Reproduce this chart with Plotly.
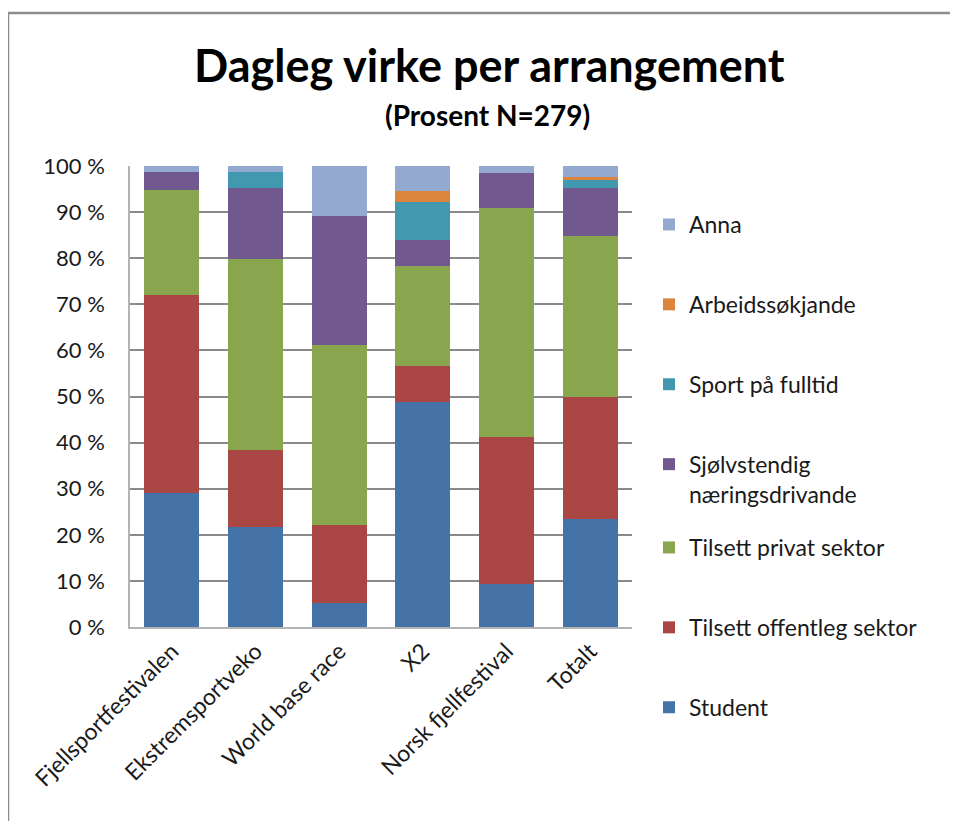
import plotly.graph_objects as go

categories = ["Fjellsportfestivalen", "Ekstremsportveko", "World base race", "X2", "Norsk fjellfestival", "Totalt"]

student = [29.1, 21.7, 5.3, 48.7, 9.4, 23.4]
offentleg = [43.0, 16.8, 16.9, 8.0, 31.9, 26.4]
privat = [22.8, 41.3, 38.9, 21.6, 49.5, 35.0]
sjolvstendig = [3.9, 15.4, 28.0, 5.6, 7.6, 10.4]
sport = [0.0, 3.5, 0.0, 8.2, 0.0, 1.8]
arbeid = [0.0, 0.0, 0.0, 2.5, 0.0, 0.6]
anna = [1.2, 1.3, 10.9, 5.4, 1.6, 2.4]

series_names = ["Student", "Tilsett offentleg sektor", "Tilsett privat sektor",
                "Sjølvstendig<br>næringsdrivande", "Sport på fulltid", "Arbeidssøkjande", "Anna"]
series_values = [student, offentleg, privat, sjolvstendig, sport, arbeid, anna]
colors = ["#4572A7", "#AA4643", "#89A54E", "#71588F", "#4198AF", "#DB843D", "#93A9CF"]
legend_ids = ["legend2", "legend2", "legend2", "legend", "legend", "legend", "legend"]

y_ticks = [0, 10, 20, 30, 40, 50, 60, 70, 80, 90, 100]
y_ticklabels = [f"{v} %" for v in y_ticks]

FONT = "Lato"

fig = go.Figure()
n = len(series_names)
for i, (name, vals, col, lg) in enumerate(zip(series_names, series_values, colors, legend_ids)):
    fig.add_trace(go.Bar(
        x=categories, y=vals, name=name, marker=dict(color=col, line=dict(width=0)),
        legendgroup=name, legendrank=n - i, legend=lg,
    ))

OFF = 8  # page body offset
W, H = 958 - OFF, 821 - OFF
# target screen coordinates of plot area
SL, SR, ST, SB = 130, 632, 166, 627
L, T = SL - OFF, ST - OFF
R = W - (SR - OFF)
B = H - (SB - OFF)
pw, ph = W - L - R, H - T - B

def sx(px):
    return (px - OFF - L) / pw

def sy(py):
    return (H - B - (py - OFF)) / ph

legend_style = dict(
    xanchor="left", yanchor="top",
    traceorder="grouped", tracegroupgap=47, valign="top",
    font=dict(family=FONT, size=23, color="#1a1a1a"),
    itemwidth=30, maxheight=700,
)

fig.update_layout(
    width=W, height=H,
    margin=dict(l=L, r=R, t=T, b=B, autoexpand=False),
    barmode="stack",
    bargap=0.34,
    plot_bgcolor="white",
    paper_bgcolor="white",
    font=dict(family=FONT, size=22, color="#1a1a1a"),
    showlegend=True,
    legend=dict(x=sx(649), y=sy(203), **legend_style),
    legend2=dict(x=sx(649), y=sy(526), **legend_style),
    xaxis=dict(
        tickangle=-45, showgrid=False, showline=True, linecolor="#b3b3b3", linewidth=1.5,
        tickfont=dict(family=FONT, size=23), ticks="",
    ),
    yaxis=dict(
        range=[0, 100], tickvals=y_ticks, ticktext=y_ticklabels,
        showgrid=True, gridcolor="#8a8a8a", gridwidth=1.5,
        showline=True, linecolor="#b3b3b3", linewidth=1.5,
        ticks="", ticklabelstandoff=19,
        tickfont=dict(family=FONT, size=22), zeroline=False,
    ),
    annotations=[
        dict(text="<b>Dagleg virke per arrangement</b>", x=sx(489), y=sy(65),
             xref="paper", yref="paper", showarrow=False, xanchor="center", yanchor="middle",
             font=dict(family=FONT, size=45, color="#000000")),
        dict(text="<b>(Prosent N=279)</b>", x=sx(487), y=sy(115),
             xref="paper", yref="paper", showarrow=False, xanchor="center", yanchor="middle",
             font=dict(family=FONT, size=28, color="#000000")),
    ],
    shapes=[
        dict(type="line", xref="paper", yref="paper",
             x0=sx(8), x1=sx(960), y0=sy(13), y1=sy(13),
             line=dict(color="#8c8c8c", width=2.5)),
        dict(type="line", xref="paper", yref="paper",
             x0=sx(8), x1=sx(8), y0=sy(13), y1=sy(830),
             line=dict(color="#8c8c8c", width=2.5)),
    ],
)

fig.write_html("out.html")
